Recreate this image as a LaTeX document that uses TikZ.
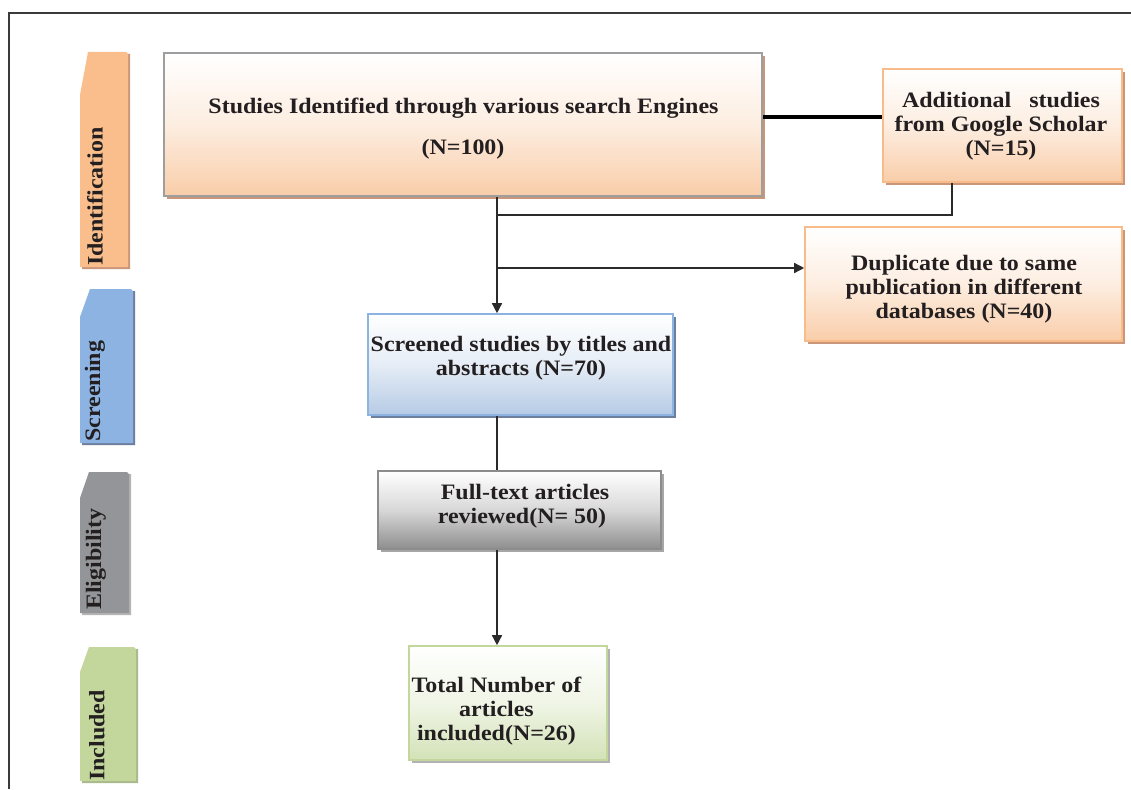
\documentclass[tikz,border=0pt]{standalone}
\usepackage{fontspec}
\setmainfont{Liberation Serif}[FakeStretch=1.09]
\usetikzlibrary{arrows.meta,shadows}
\definecolor{txt}{HTML}{231F20}
\definecolor{idc}{HTML}{F9BE8B}
\definecolor{idsh}{HTML}{C9967A}
\definecolor{scc}{HTML}{8DB3E2}
\definecolor{scsh}{HTML}{6D7F9E}
\definecolor{elc}{HTML}{939598}
\definecolor{elsh}{HTML}{B5B5B5}
\definecolor{inc}{HTML}{C3D69B}
\definecolor{insh}{HTML}{A9B98A}
\definecolor{peach}{HTML}{F9CDA9}
\definecolor{peachbd}{HTML}{F7BC8A}
\definecolor{bluefill}{HTML}{B6CBE5}
\definecolor{grayfill}{HTML}{8E8E8E}
\definecolor{greenfill}{HTML}{D3E2B7}
\definecolor{framec}{HTML}{3A3A3A}
\definecolor{linec}{HTML}{2A2A2A}
\newcommand\phasetab[7]{%
  % #1 slant top x, #2 top y, #3 slant bottom y, #4 right x, #5 bottom y, #6 fill, #7 shadow
  \fill[#7] ({#1+2},{#2+2}) -- ({#4+2},{#2+2}) -- ({#4+2},{#5+2}) -- (82,{#5+2}) -- (82,{#3+2}) -- cycle;
  \fill[#6] (#1,#2) -- ({#4-2},#2) -- (#4,{#2+2}) -- (#4,#5) -- (80,#5) -- (80,#3) -- cycle;
}
\begin{document}
\begin{tikzpicture}[x=1pt,y=-1pt,
  every node/.style={text=txt, font=\fontsize{22}{24.2}\selectfont\bfseries},
  box/.style args={#1/#2/#3}{draw=#1, line width=1.6pt, top color=white, bottom color=#2,
     middle color=#2!35, inner sep=0,
     drop shadow={shadow xshift=3pt, shadow yshift=-3pt, fill=#3, opacity=1}},
  boxtext/.style={align=center, inner sep=0},
  tabtext/.style={rotate=90, anchor=west, inner sep=0, font=\fontsize{22}{24}\selectfont\bfseries},
  conn/.style={draw=linec, line width=1.4pt},
  tip/.style={-{Triangle[length=10pt,width=10pt]}},
]
\useasboundingbox (0,0) rectangle (1131,789);
\fill[white] (0,0) rectangle (1131,789);
% frame
\draw[framec, line width=1.4pt] (8,13) -- (1131,13);
\draw[framec, line width=1.4pt] (9,13) -- (9,789);
% phase tabs
\phasetab{88}{52}{95}{128}{267}{idc}{idsh}
\phasetab{90}{289}{317}{133}{443}{scc}{scsh}
\phasetab{89}{472}{498}{129}{613}{elc}{elsh}
\phasetab{89}{647}{672}{136}{781}{inc}{insh}
\node[tabtext] (lid) at (95,266) {Identification};
\node[tabtext] (lsc) at (95,442) {Screening};
\node[tabtext] (lel) at (96,610) {Eligibility};
\node[tabtext] (lin) at (97,781) {Included};
% boxes
\node[box={black!38/peach/idsh}, minimum width=598pt, minimum height=143pt] (b1) at (463,124.5) {};
\node[box={peachbd/peach/idsh}, minimum width=239pt, minimum height=113pt] (b2) at (1002.5,125.5) {};
\node[box={peachbd/peach/idsh}, minimum width=317pt, minimum height=114pt] (b6) at (963.5,284) {};
\node[box={scc/bluefill/scsh}, minimum width=305pt, minimum height=101pt] (b3) at (520.5,364.5) {};
\node[box={black!45/grayfill/black!35}, minimum width=283pt, minimum height=78pt] (b4) at (519.5,510) {};
\node[box={inc/greenfill/black!30}, minimum width=198pt, minimum height=114pt] (b5) at (508,703) {};
% texts
\node[boxtext] (t1a) at (463.5,108.5) {Studies Identified through various search Engines};
\node[boxtext] (t1b) at (463,149.5) {(N=100)};
\node[boxtext] (t2) at (1001,126.5) {Additional\ \ \ studies\\from Google Scholar\\(N=15)};
\node[boxtext] (t6) at (964,289) {Duplicate due to same\\publication in different\\databases (N=40)};
\node[boxtext] (t3) at (521,358.5) {Screened studies by titles and\\abstracts (N=70)};
\node[boxtext] (t4) at (522,506) {\ Full-text articles\\reviewed(N= 50)};
\node[boxtext] (t5) at (496.5,711) {Total Number of\\articles\\included(N=26)};
% connectors
\coordinate (spine) at (497,0);
\coordinate (gs) at (952,0);
\coordinate (tl) at (0,117);
\coordinate (jA) at (497,215);
\coordinate (jB) at (497,268);
\draw[line width=4pt, black] (b1.east |- tl) -- (b2.west |- tl);
\draw[conn, tip] (b1.south -| spine) -- (b3.north -| spine);
\draw[conn] (b2.south -| gs) |- (jA);
\draw[conn, tip] (jB) -- (b6.west |- jB);
\draw[conn] (b3.south -| spine) -- (b4.north -| spine);
\draw[conn, tip] (b4.south -| spine) -- (b5.north -| spine);
\end{tikzpicture}
\end{document}
